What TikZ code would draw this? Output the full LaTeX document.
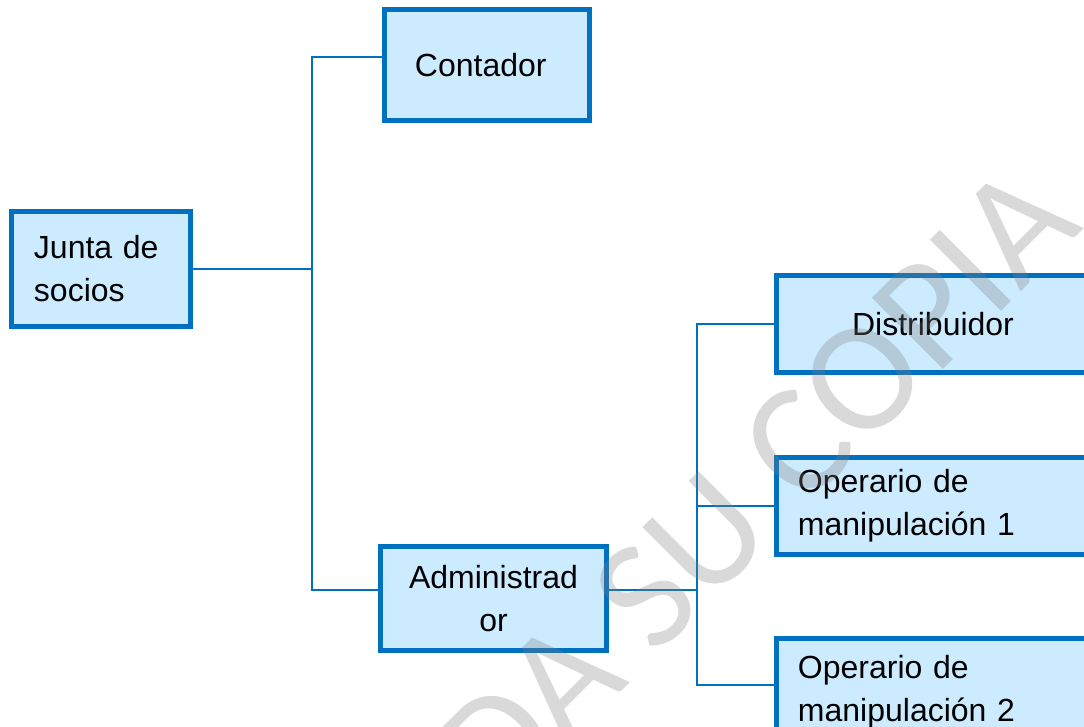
\documentclass[tikz,border=0pt]{standalone}
\usepackage{fontspec}
\setmainfont{Liberation Sans}
\newfontfamily\wmfont{Carlito}
\usetikzlibrary{positioning}
\definecolor{orgline}{HTML}{0070C0}
\definecolor{orgfill}{HTML}{CCEBFF}
\definecolor{wmgray}{HTML}{808080}

\begin{document}
\begin{tikzpicture}[x=0.025cm,y=-0.025cm,
  box/.style={draw=orgline,fill=orgfill,line width=3.4pt,inner sep=0pt,minimum height=2.425cm,align=center,font=\fontsize{22.76pt}{30.6pt}\selectfont},
  leftbox/.style={box,align=left,inner xsep=#1},
  link/.style={draw=orgline,line width=1.3pt},
  wm/.style={text=wmgray,text opacity=0.3,inner sep=0pt,font=\wmfont\fontsize{111.7pt}{120pt}\selectfont},
  node distance=2cm]
\useasboundingbox (0,0) rectangle (1084,726);
\clip (0,0) rectangle (1084,726);
% first level
\node[leftbox=0.5625cm,text width=3.35cm,minimum height=2.875cm] (socios) at (101,269) {Junta de\\socios};
\node[leftbox=0.7625cm,text width=3.6cm,minimum height=2.775cm] (contador) at (487,65) {Contador};
\node[box,minimum width=5.65cm,minimum height=2.6cm] (admin) at (493.5,598.5) {Administrad\\or};
% second level
\node[box,minimum width=7.825cm] (distrib) at (933,324) {Distribuidor};
\node[leftbox=0.5375cm,text width=6.75cm,below=of distrib] (oper1) {Operario de\\manipulación 1};
\node[leftbox=0.5375cm,text width=6.75cm,minimum height=2.675cm,below=1.975cm of oper1] (oper2) {Operario de\\manipulación 2};
\coordinate (bus1) at (312,269);
\coordinate (bus2) at (697,590);
\draw[link] (socios.east) -- (bus1);
\draw[link] ([yshift=0.2cm]contador.west) -| (bus1) |- ([yshift=0.2125cm]admin.west);
\draw[link] ([yshift=0.2125cm]admin.east) -- (bus2);
\draw[link] (distrib.west) -| (bus2) |- ([yshift=0.175cm]oper2.west);
\draw[link] (oper1.west) -- (oper1.west -| bus2);
% watermark
\node[wm,anchor=base east,rotate=45] (marca) at (1085,228) {DA SU COPIA};
\end{tikzpicture}
\end{document}
